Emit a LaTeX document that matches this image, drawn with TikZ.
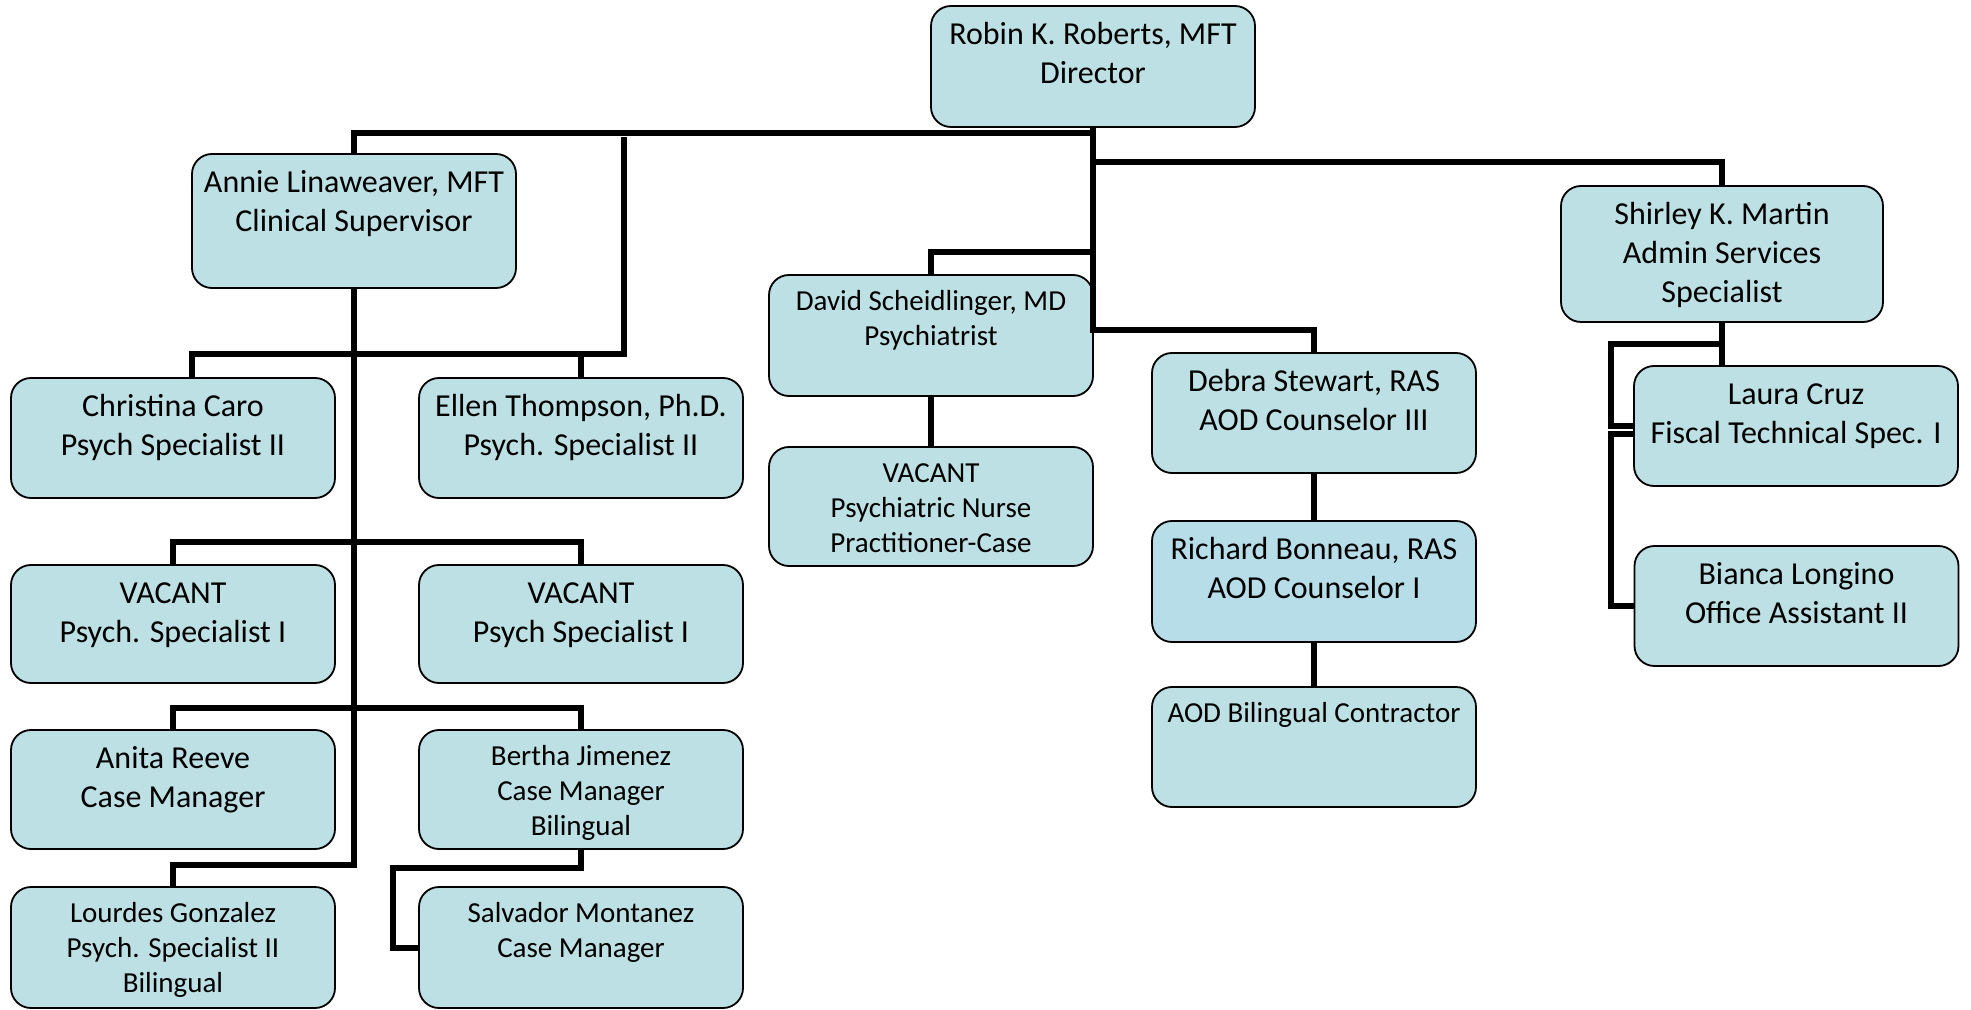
\documentclass[tikz,border=0pt]{standalone}
\usepackage{fontspec}
\setmainfont{Carlito}
\definecolor{boxfill}{RGB}{188,224,227}
\definecolor{richfill}{RGB}{183,221,232}
\begin{document}
\begin{tikzpicture}[x=0.5pt,y=-0.5pt,
  box/.style={draw=black, line width=0.9pt, fill=boxfill, rounded corners=10pt,
    minimum width=162pt, minimum height=60pt, inner sep=0pt, outer sep=0pt},
  big/.style={anchor=north, align=center, inner sep=0pt, yshift=-5.45pt,
    font=\fontsize{16}{19.5}\selectfont},
  small/.style={anchor=north, align=center, inner sep=0pt, yshift=-5.4pt,
    font=\fontsize{14.5}{17.5}\selectfont},
  conn/.style={line width=3pt, line join=miter}]
\useasboundingbox (0,0) rectangle (1971,1010);

% boxes
\node[box, minimum height=60.5pt] (robin) at (1093,66.5) {};
\node[box, minimum height=67pt] (annie) at (354,221) {};
\node[box] (christina) at (173,438) {};
\node[box] (ellen) at (581,438) {};
\node[box, minimum height=59pt] (vac1) at (173,624) {};
\node[box, minimum height=59pt] (vac2) at (581,624) {};
\node[box, minimum height=59.5pt] (anita) at (173,789.5) {};
\node[box, minimum height=59.5pt] (bertha) at (581,789.5) {};
\node[box, minimum height=60.5pt] (lourdes) at (173,947.5) {};
\node[box, minimum height=60.5pt] (salvador) at (581,947.5) {};
\node[box, minimum height=60.5pt] (david) at (931,335.5) {};
\node[box, minimum height=59.5pt] (nurse) at (931,506.5) {};
\node[box] (debra) at (1314,413) {};
\node[box, fill=richfill, minimum height=60.5pt] (richard) at (1314,581.5) {};
\node[box] (aod) at (1314,747) {};
\node[box, minimum width=161pt, minimum height=68pt] (shirley) at (1722,254) {};
\node[box] (laura) at (1796,426) {};
\node[box] (bianca) at (1796.5,606) {};

% texts
\node[big] (robin-t) at (robin.north) {\strut Robin K. Roberts, MFT\\Director};
\node[big] (annie-t) at (annie.north) {\strut Annie Linaweaver, MFT\\Clinical Supervisor};
\node[big] (christina-t) at (christina.north) {\strut Christina Caro\\Psych Specialist II};
\node[big] (ellen-t) at (ellen.north) {\strut Ellen Thompson, Ph.D.\\Psych. Specialist II};
\node[big] (vac1-t) at (vac1.north) {\strut VACANT\\Psych. Specialist I};
\node[big] (vac2-t) at (vac2.north) {\strut VACANT\\Psych Specialist I};
\node[big] (anita-t) at (anita.north) {\strut Anita Reeve\\Case Manager};
\node[small] (bertha-t) at (bertha.north) {\strut Bertha Jimenez\\Case Manager\\Bilingual};
\node[small] (lourdes-t) at (lourdes.north) {\strut Lourdes Gonzalez\\Psych. Specialist II\\Bilingual};
\node[small] (salvador-t) at (salvador.north) {\strut Salvador Montanez\\Case Manager};
\node[small] (david-t) at (david.north) {\strut David Scheidlinger, MD\\Psychiatrist};
\node[small] (nurse-t) at (nurse.north) {\strut VACANT\\Psychiatric Nurse\\Practitioner-Case};
\node[big] (debra-t) at (debra.north) {\strut Debra Stewart, RAS\\AOD Counselor III};
\node[big] (richard-t) at (richard.north) {\strut Richard Bonneau, RAS\\AOD Counselor I};
\node[small] (aod-t) at (aod.north) {\strut AOD Bilingual Contractor};
\node[big] (shirley-t) at (shirley.north) {\strut Shirley K. Martin\\Admin Services\\Specialist};
\node[big] (laura-t) at (laura.north) {\strut Laura Cruz\\Fiscal Technical Spec. I};
\node[big] (bianca-t) at (bianca.north) {\strut Bianca Longino\\Office Assistant II};

% connectors
\coordinate (cc) at (624,137);
\draw[conn] (robin.south) -- ++(0,6) -| (annie.north);
\draw[conn] (robin.south) -- ++(0,203) -| (debra.north);
\draw[conn] (robin.south) -- ++(0,35) -| (shirley.north);
\draw[conn] (robin.south) -- ++(0,125) -| (david.north);
\draw[conn] (cc) -- ++(0,217) -| ([xshift=9.5pt]christina.north);
\draw[conn] (ellen.north) -- ++(0,-24);
\draw[conn] (annie.south) -- ++(0,577) -| (lourdes.north);
\draw[conn] (vac1.north) -- ++(0,-23) -| (vac2.north);
\draw[conn] (anita.north) -- ++(0,-22) -| (bertha.north);
\draw[conn] (bertha.south) -- ++(0,19) -- ++(-188,0) |- (salvador.west);
\draw[conn] (david.south) -- (nurse.north);
\draw[conn] (debra.south) -- (richard.north);
\draw[conn] (richard.south) -- (aod.north);
\draw[conn] (shirley.south) -- (shirley.south |- laura.north);
\draw[conn] (shirley.south) -- ++(0,22) -- ++(-111,0) |- (laura.west);
\draw[conn] ([yshift=-4pt]laura.west) -- ++(-23,0) |- (bianca.west);
\end{tikzpicture}
\end{document}
